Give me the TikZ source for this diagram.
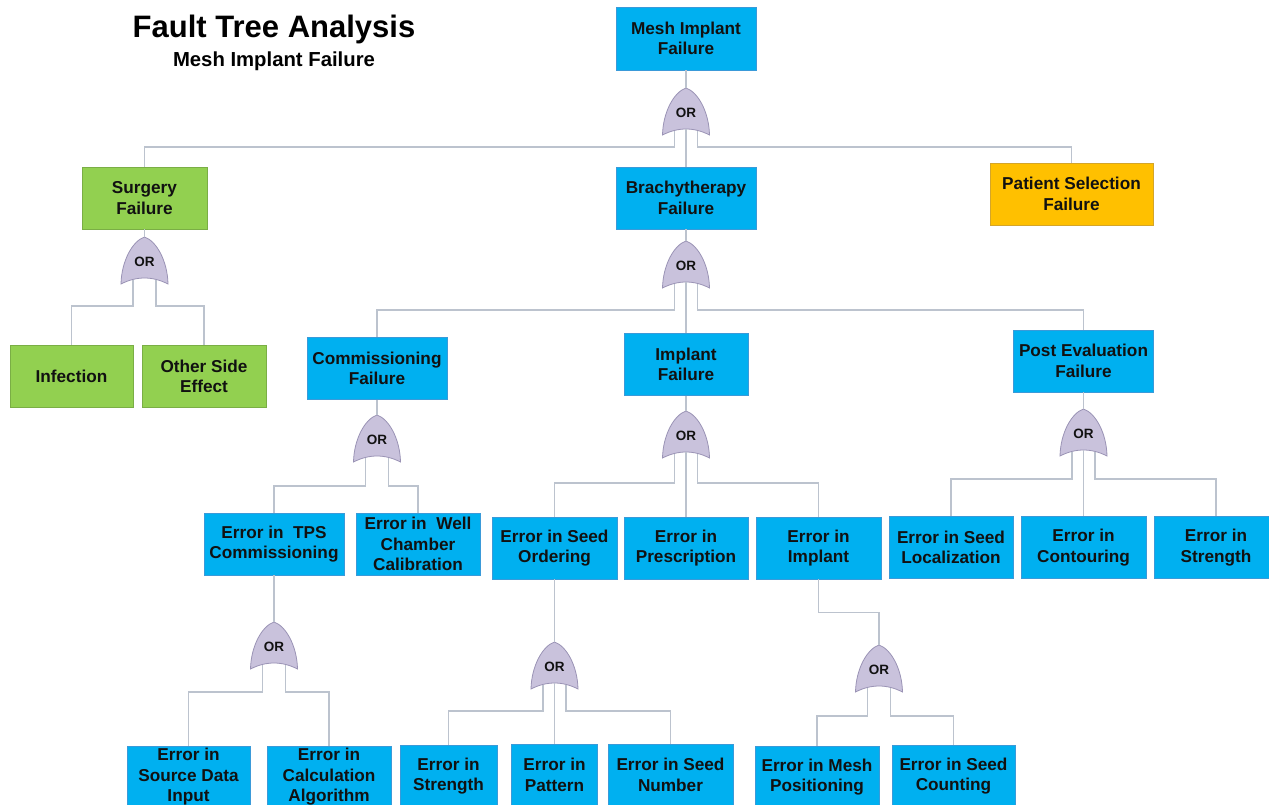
\documentclass[tikz,border=0pt]{standalone}
\usepackage{fontspec}
\setmainfont{Liberation Sans}
\usepackage{xcolor}
\usepackage{tikz}
\usetikzlibrary{calc}
\definecolor{ink}{HTML}{111111}
\definecolor{skyfill}{HTML}{00B0F0}
\definecolor{skyedge}{HTML}{3A9AD9}
\definecolor{leaffill}{HTML}{92D050}
\definecolor{leafedge}{HTML}{7AAE45}
\definecolor{amberfill}{HTML}{FFC000}
\definecolor{amberedge}{HTML}{D4A52A}
\definecolor{gatefill}{HTML}{C9C2DC}
\definecolor{gateedge}{HTML}{9A93B5}
\definecolor{wirecol}{HTML}{BCC3CE}
\tikzset{
  box/.style={rectangle, draw, line width=0.9pt, minimum height=62pt, inner sep=2pt,
    align=center, text=ink, font=\bfseries\fontsize{17.2}{20.5}\selectfont},
  bluebox/.style={box, fill=skyfill, draw=skyedge},
  greenbox/.style={box, fill=leaffill, draw=leafedge},
  amberbox/.style={box, fill=amberfill, draw=amberedge},
  wire/.style={draw=wirecol, line width=1.4pt},
  gatelbl/.style={text=ink, font=\bfseries\fontsize{13.5}{15}\selectfont, inner sep=0pt},
  orgate/.pic={
    \path[fill=gatefill, draw=gateedge, line width=0.8pt]
      (-23.5,47) .. controls (-23,24) and (-12,4) .. (0,0)
      .. controls (12,4) and (23,24) .. (23.5,47)
      .. controls (8,39) and (-8,39) .. cycle;
    \node[gatelbl] (-or) at (0,25) {OR};
    \coordinate (-apex) at (0,0);
    \coordinate (-l) at (-11.5,42.5);
    \coordinate (-r) at (11.5,42.5);
    \coordinate (-c) at (0,41);
  }
}

\begin{document}
\begin{tikzpicture}[x=1pt, y=-1pt]
  \useasboundingbox (0,0) rectangle (1269,804);
  \clip (0,0) rectangle (1269,804);

  \node[anchor=base, text=black, font=\bfseries\fontsize{31}{36}\selectfont] (title) at (274,37) {Fault Tree Analysis};
  \node[anchor=base, text=black, font=\bfseries\fontsize{20.3}{24}\selectfont] (subtitle) at (274,66) {Mesh Implant Failure};

  \node[bluebox, minimum width=140pt, minimum height=63pt] (top) at (686,38.5) {Mesh Implant\\Failure};
  \node[greenbox, minimum width=125pt] (surg) at (144.5,198) {Surgery\\Failure};
  \node[bluebox, minimum width=140pt] (brachy) at (686,198) {Brachytherapy\\Failure};
  \node[amberbox, minimum width=163pt] (patient) at (1071.5,194) {Patient Selection\\Failure};

  \node[greenbox, minimum width=123pt] (infect) at (71.5,376.5) {Infection};
  \node[greenbox, minimum width=124pt] (side) at (204,376.5) {Other Side\\Effect};
  \node[bluebox, minimum width=140pt] (comm) at (377,368.5) {Commissioning\\Failure};
  \node[bluebox, minimum width=124pt] (impl) at (686,364.5) {Implant\\Failure};
  \node[bluebox, minimum width=140pt] (post) at (1083.5,361) {Post Evaluation\\Failure};

  \node[bluebox, minimum width=140pt] (tps) at (274,544) {Error in~ TPS\\Commissioning};
  \node[bluebox, minimum width=124pt] (well) at (418,544) {Error in~ Well\\Chamber\\Calibration};
  \node[bluebox, minimum width=125pt] (seedord) at (554.5,548) {Error in Seed\\Ordering};
  \node[bluebox, minimum width=124pt] (presc) at (686,548) {Error in\\Prescription};
  \node[bluebox, minimum width=125pt] (errimpl) at (818.5,548) {Error in\\Implant};
  \node[bluebox, minimum width=124pt] (seedloc) at (951,547.5) {Error in Seed\\Localization};
  \node[bluebox, minimum width=125pt] (contour) at (1083.5,547.5) {Error in\\Contouring};
  \node[bluebox, minimum width=124pt] (strength) at (1216,547.5) {Error in\\Strength};

  \node[bluebox, minimum width=123pt] (source) at (188.5,777) {Error in\\Source Data\\Input};
  \node[bluebox, minimum width=124pt] (calc) at (329,777) {Error in\\Calculation\\Algorithm};
  \node[bluebox, minimum width=97pt] (strb) at (448.5,776) {Error in\\Strength};
  \node[bluebox, minimum width=86pt] (pattern) at (554.5,775) {Error in\\Pattern};
  \node[bluebox, minimum width=125pt] (seednum) at (670.5,775) {Error in Seed\\Number};
  \node[bluebox, minimum width=124pt] (meshpos) at (817,777) {Error in Mesh\\Positioning};
  \node[bluebox, minimum width=123pt] (seedcnt) at (953.5,776) {Error in Seed\\Counting};

  \pic (g0) at (686,88) {orgate};
  \pic (gs) at (144.5,237) {orgate};
  \pic (gb) at (686,241) {orgate};
  \pic (gc) at (377,415) {orgate};
  \pic (gi) at (686,411) {orgate};
  \pic (gp) at (1083.5,409) {orgate};
  \pic (gt) at (274,622) {orgate};
  \pic (gso) at (554.5,642) {orgate};
  \pic (gei) at (879,645) {orgate};

  \draw[wire] (top.south) -- (g0-apex);
  \draw[wire] (g0-l) -- ++(0,16.5) -| (surg.north);
  \draw[wire] (g0-r) -- ++(0,16.5) -| (patient.north);
  \draw[wire] (g0-c) -- (brachy.north);

  \draw[wire] (surg.south) -- (gs-apex);
  \draw[wire] (gs-l) -- ++(0,26.5) -| (infect.north);
  \draw[wire] (gs-r) -- ++(0,26.5) -| (side.north);

  \draw[wire] (brachy.south) -- (gb-apex);
  \draw[wire] (gb-l) -- ++(0,26.5) -| (comm.north);
  \draw[wire] (gb-r) -- ++(0,26.5) -| (post.north);
  \draw[wire] (gb-c) -- (impl.north);

  \draw[wire] (comm.south) -- (gc-apex);
  \draw[wire] (gc-l) -- ++(0,28.5) -| (tps.north);
  \draw[wire] (gc-r) -- ++(0,28.5) -| (well.north);

  \draw[wire] (impl.south) -- (gi-apex);
  \draw[wire] (gi-l) -- ++(0,29.5) -| (seedord.north);
  \draw[wire] (gi-r) -- ++(0,29.5) -| (errimpl.north);
  \draw[wire] (gi-c) -- (presc.north);

  \draw[wire] (post.south) -- (gp-apex);
  \draw[wire] (gp-l) -- ++(0,27.5) -| (seedloc.north);
  \draw[wire] (gp-r) -- ++(0,27.5) -| (strength.north);
  \draw[wire] (gp-c) -- (contour.north);

  \draw[wire] (tps.south) -- (gt-apex);
  \draw[wire] (gt-l) -- ++(0,27.5) -| (source.north);
  \draw[wire] (gt-r) -- ++(0,27.5) -| (calc.north);

  \draw[wire] (seedord.south) -- (gso-apex);
  \draw[wire] (gso-l) -- ++(0,26.5) -| (strb.north);
  \draw[wire] (gso-r) -- ++(0,26.5) -| (seednum.north);
  \draw[wire] (gso-c) -- (pattern.north);

  \draw[wire] (errimpl.south) -- ++(0,33) -| (gei-apex);
  \draw[wire] (gei-l) -- ++(0,28.5) -| (meshpos.north);
  \draw[wire] (gei-r) -- ++(0,28.5) -| (seedcnt.north);
\end{tikzpicture}
\end{document}
